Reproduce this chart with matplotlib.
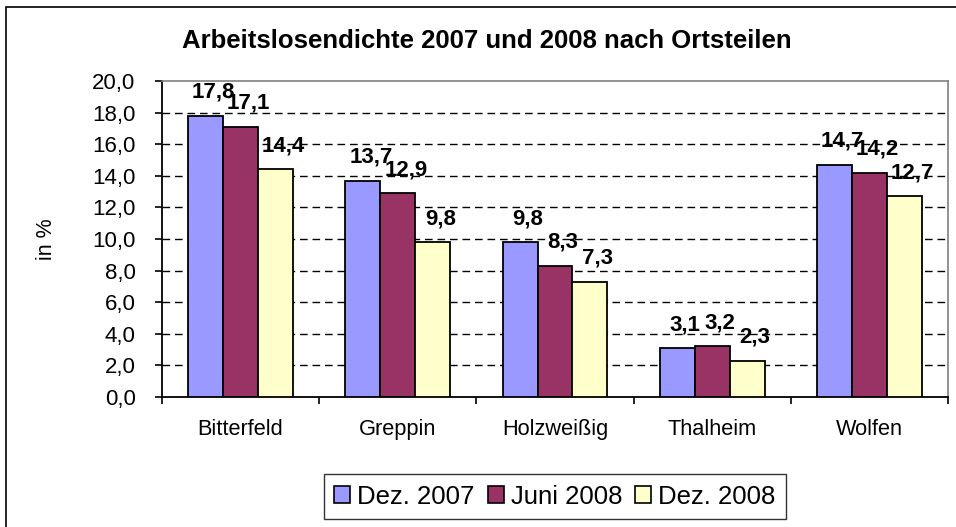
import matplotlib.pyplot as plt
import numpy as np
from matplotlib.patches import Rectangle, Patch

plt.rcParams['font.family'] = ['Liberation Sans', 'DejaVu Sans']

# Data
orte = ['Bitterfeld', 'Greppin', 'Holzweißig', 'Thalheim', 'Wolfen']
serien = ['Dez. 2007', 'Juni 2008', 'Dez. 2008']
dez_2007 = [17.8, 13.7, 9.8, 3.1, 14.7]
juni_2008 = [17.1, 12.9, 8.3, 3.2, 14.2]
dez_2008 = [14.4, 9.8, 7.3, 2.3, 12.7]
farben = ['#9999FF', '#993366', '#FFFFCC']

fig = plt.figure(figsize=(9.56, 5.27), dpi=100)
ax = fig.add_axes([162 / 956, 1 - 397 / 527, (948 - 162) / 956, (397 - 81) / 527])

# outer chart border (cropped at right/bottom)
fig.patches.append(Rectangle((6 / 956, -0.05), 1.2, 1 - 7 / 527 + 0.05,
                             transform=fig.transFigure, fill=False,
                             edgecolor='black', linewidth=1.2))

x = np.arange(len(orte))
w = 1 / 4.5
for i, (werte, farbe) in enumerate(zip([dez_2007, juni_2008, dez_2008], farben)):
    pos = x + (i - 1) * w
    ax.bar(pos, werte, width=w, color=farbe, edgecolor='black', linewidth=1.3, zorder=3)
    for xp, v in zip(pos, werte):
        ax.annotate(f'{v:.1f}'.replace('.', ','), (xp, v), xytext=(8, 18),
                    textcoords='offset pixels', ha='center', va='baseline',
                    fontsize=16, fontweight='bold', zorder=4)

ax.set_xlim(-0.5, len(orte) - 0.5)
ax.set_ylim(0, 20)
yt = np.arange(0, 21, 2)
ax.set_yticks(yt)
ax.set_yticklabels([f'{t:.1f}'.replace('.', ',') for t in yt], fontsize=16)
for t in yt[1:-1]:
    ax.axhline(t, color='black', linewidth=1, dashes=(5.5, 3.5), zorder=1)

ax.set_xticks(x)
ax.set_xticklabels(orte, fontsize=15.7)
ax.set_xticks(np.arange(-0.5, len(orte), 1), minor=True)
ax.tick_params(axis='x', which='major', length=0, pad=16)
ax.tick_params(axis='x', which='minor', length=5, width=1.2, direction='out')
ax.tick_params(axis='y', length=5, width=1.2, direction='out', pad=14)

for s in ['top', 'right']:
    ax.spines[s].set_color('#808080')
    ax.spines[s].set_linewidth(1.2)
for s in ['left', 'bottom']:
    ax.spines[s].set_color('black')
    ax.spines[s].set_linewidth(1.3)

fig.text(46 / 956, 1 - 239 / 527, 'in %', rotation=90, fontsize=15.5,
         ha='center', va='center')
fig.text(487 / 956, 1 - 48 / 527, 'Arbeitslosendichte 2007 und 2008 nach Ortsteilen',
         fontsize=18.5, fontweight='bold', ha='center', va='baseline')

handles = [Patch(facecolor=f, edgecolor='black', linewidth=1.2) for f in farben]
leg = fig.legend(handles, serien, loc='center', bbox_to_anchor=(555 / 956, 1 - 496.5 / 527),
                 ncol=3, fontsize=18.5, frameon=True, fancybox=False, handlelength=0.62,
                 handleheight=0.6, handletextpad=0.28, columnspacing=0.5,
                 borderpad=0.4, borderaxespad=0)
leg.get_frame().set_edgecolor('black')
leg.get_frame().set_linewidth(1.0)

fig.savefig('out.png', dpi=100)
